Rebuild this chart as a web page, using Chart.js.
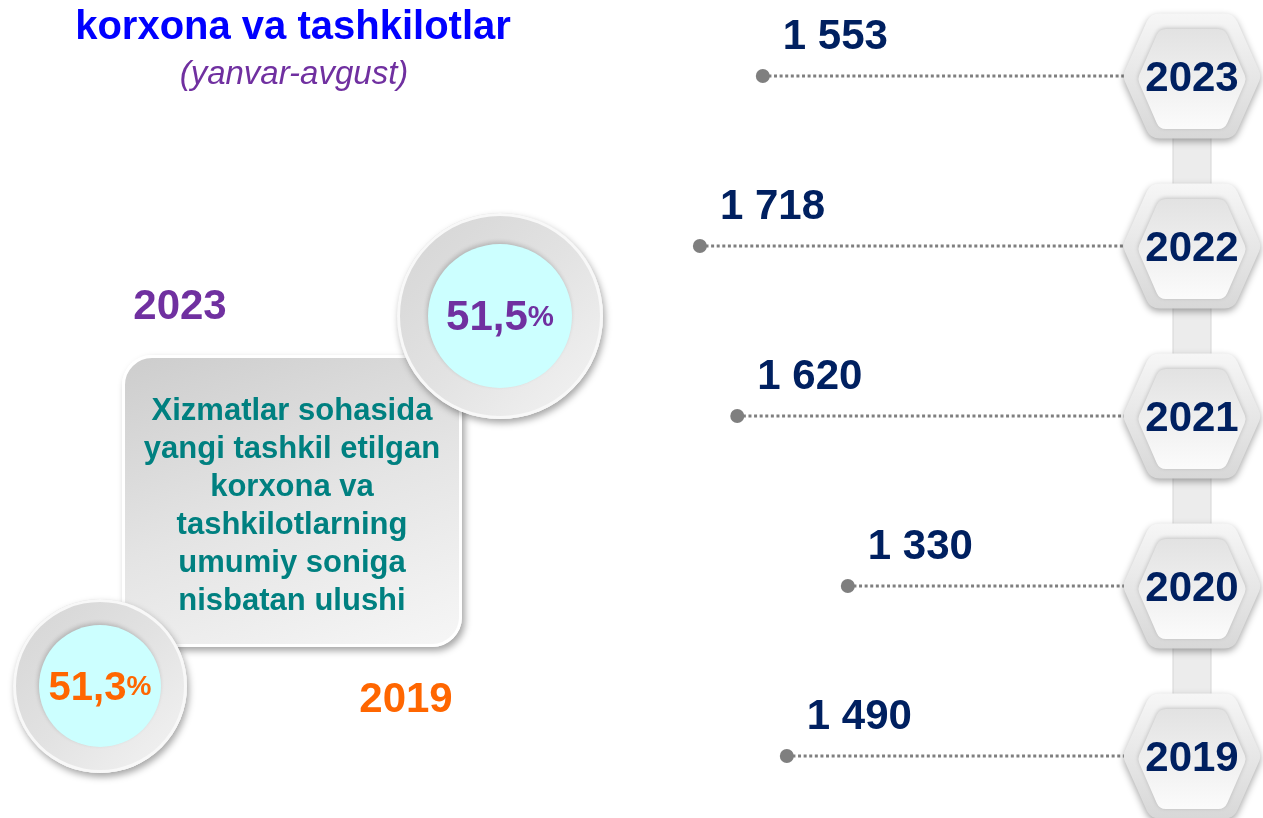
<!DOCTYPE html>
<html lang="uz">
<head>
<meta charset="UTF-8">
<title>Korxona va tashkilotlar</title>
<script src="https://cdn.jsdelivr.net/npm/chart.js@4"></script>
<style>
  body { margin: 0; background: #fff; font-family: "Liberation Sans", Arial, sans-serif; }
  #wrap { position: relative; width: 1263px; height: 818px; overflow: hidden; }
  #chart { position: absolute; left: 0; top: 0; }
  .t { position: absolute; transform: translate(-50%, -50%); line-height: 1; white-space: nowrap; font-weight: bold; }
  .box {
    position: absolute; left: 122px; top: 355px; width: 334px; height: 286px;
    border-radius: 30px; border: 3px solid #fff;
    background: linear-gradient(160deg, #cdcdcd 0%, #e4e4e4 50%, #f6f6f6 100%);
    box-shadow: 3px 4px 7px rgba(0,0,0,0.35);
    display: flex; align-items: center; justify-content: center;
    color: #008080; font-weight: bold; font-size: 31px; line-height: 38px; text-align: center;
    padding-top: 8px; box-sizing: content-box;
  }
  .ring {
    position: absolute; border-radius: 50%;
    background: linear-gradient(135deg, #d4d4d4 0%, #e2e2e2 50%, #f4f4f4 100%);
    box-shadow: 2px 4px 7px rgba(0,0,0,0.35), inset 0 0 0 3px #f8f8f8;
  }
  .core {
    position: absolute; border-radius: 50%; background: #ccffff;
    box-shadow: -1px -2px 4px rgba(0,0,0,0.18);
    display: flex; align-items: center; justify-content: center;
    font-weight: bold; white-space: nowrap;
  }
  .core small { font-size: 0.7em; }
</style>
</head>
<body>
<div id="wrap">
  <canvas id="chart" width="1263" height="818"></canvas>

  <div class="t" style="left:293px; top:25px; font-size:40px; color:#0000ff;">korxona va tashkilotlar</div>
  <div class="t" style="left:294px; top:72px; font-size:33px; color:#7030a0; font-weight:normal; font-style:italic;">(yanvar-avgust)</div>

  <div class="box" style="height:278px;">Xizmatlar sohasida<br>yangi tashkil etilgan<br>korxona va<br>tashkilotlarning<br>umumiy soniga<br>nisbatan ulushi</div>

  <div class="t" id="yearNew" style="left:180px; top:305px; font-size:42px; color:#7030a0;"></div>
  <div class="t" id="yearOld" style="left:406px; top:698px; font-size:42px; color:#ff6600;"></div>

  <div class="ring" style="left:397px; top:213px; width:206px; height:206px;">
    <div class="core" id="shareNew" style="left:31px; top:31px; width:144px; height:144px; font-size:42px; color:#7030a0;"></div>
  </div>
  <div class="ring" style="left:13px; top:599px; width:174px; height:174px;">
    <div class="core" id="shareOld" style="left:26px; top:26px; width:122px; height:122px; font-size:40px; color:#ff6600;"></div>
  </div>
</div>

<script>
  // Timeline data (top to bottom)
  const years = ['2023', '2022', '2021', '2020', '2019'];
  const counts = [1553, 1718, 1620, 1330, 1490];

  // Share of services sector, first and last year
  const shareYears = ['2023', '2019'];
  const shares = [51.5, 51.3];

  const fmtNum = n => String(n).replace(/\B(?=(\d{3})+(?!\d))/g, ' ');
  const fmtPct = v => v.toFixed(1).replace('.', ',') + '<small>%</small>';

  document.getElementById('yearNew').textContent = shareYears[0];
  document.getElementById('yearOld').textContent = shareYears[1];
  document.getElementById('shareNew').innerHTML = fmtPct(shares[0]);
  document.getElementById('shareOld').innerHTML = fmtPct(shares[1]);

  const X_MIN = 590, X_MAX = 1980;

  // one dotted line per year, running from the value to the right edge
  const datasets = years.map((y, i) => ({
    data: [{ x: counts[i], y: y }, { x: X_MIN, y: y }],
    borderColor: '#7f7f7f',
    borderWidth: 3,
    borderDash: [3, 2.6],
    pointRadius: [7, 0],
    pointBackgroundColor: '#7f7f7f',
    pointBorderWidth: 0,
    clip: false
  }));

  function hexPath(ctx, cx, cy, w, h, r) {
    const s = w * 0.2;
    const pts = [
      [cx - w / 2, cy], [cx - w / 2 + s, cy - h / 2], [cx + w / 2 - s, cy - h / 2],
      [cx + w / 2, cy], [cx + w / 2 - s, cy + h / 2], [cx - w / 2 + s, cy + h / 2]
    ];
    const n = pts.length;
    ctx.beginPath();
    ctx.moveTo((pts[n - 1][0] + pts[0][0]) / 2, (pts[n - 1][1] + pts[0][1]) / 2);
    for (let i = 0; i < n; i++) {
      const p = pts[i], q = pts[(i + 1) % n];
      ctx.arcTo(p[0], p[1], q[0], q[1], r);
    }
    ctx.closePath();
  }

  const timeline = {
    id: 'timeline',
    beforeDatasetsDraw(chart) {
      const ctx = chart.ctx, ys = chart.scales.y;
      const cx = chart.chartArea.right + 62;
      const top = ys.getPixelForValue(0), bottom = 818;
      ctx.save();
      ctx.fillStyle = '#ececec';
      ctx.strokeStyle = '#d6d6d6';
      ctx.lineWidth = 1;
      ctx.fillRect(cx - 19, top, 38, bottom - top);
      ctx.strokeRect(cx - 19, top, 38, bottom - top);
      ctx.restore();
    },
    afterDatasetsDraw(chart) {
      const ctx = chart.ctx, ys = chart.scales.y;
      const cx = chart.chartArea.right + 62;
      ctx.save();
      years.forEach((y, i) => {
        const cy = ys.getPixelForValue(i);
        // outer hexagon
        ctx.save();
        ctx.shadowColor = 'rgba(0,0,0,0.35)';
        ctx.shadowBlur = 7;
        ctx.shadowOffsetY = 3;
        let g = ctx.createLinearGradient(0, cy - 62, 0, cy + 62);
        g.addColorStop(0, '#f6f6f6');
        g.addColorStop(1, '#d8d8d8');
        ctx.fillStyle = g;
        hexPath(ctx, cx, cy, 139, 125, 14);
        ctx.fill();
        ctx.restore();
        // inner face
        ctx.save();
        ctx.shadowColor = 'rgba(0,0,0,0.2)';
        ctx.shadowBlur = 4;
        ctx.shadowOffsetY = -1;
        g = ctx.createLinearGradient(0, cy - 48, 0, cy + 52);
        g.addColorStop(0, '#e2e2e2');
        g.addColorStop(1, '#fbfbfb');
        ctx.fillStyle = g;
        hexPath(ctx, cx, cy + 3, 109, 100, 10);
        ctx.fill();
        ctx.restore();
        // year label
        ctx.fillStyle = '#002060';
        ctx.font = 'bold 42px "Liberation Sans", Arial, sans-serif';
        ctx.textAlign = 'center';
        ctx.textBaseline = 'middle';
        ctx.fillText(y, cx, cy + 3);
      });
      // value labels above the dots
      chart.data.datasets.forEach((ds, i) => {
        const pt = chart.getDatasetMeta(i).data[0];
        ctx.fillStyle = '#002060';
        ctx.font = 'bold 42px "Liberation Sans", Arial, sans-serif';
        ctx.textAlign = 'left';
        ctx.textBaseline = 'middle';
        ctx.fillText(fmtNum(counts[i]), pt.x + 20, pt.y - 39);
      });
      ctx.restore();
    }
  };

  new Chart(document.getElementById('chart'), {
    type: 'line',
    data: { labels: years, datasets: datasets },
    options: {
      responsive: false,
      animation: false,
      layout: { padding: { left: 600, right: 133, top: 76, bottom: 62 } },
      scales: {
        x: { type: 'linear', reverse: true, min: X_MIN, max: X_MAX, display: false },
        y: { type: 'category', labels: years, offset: false, display: false }
      },
      plugins: { legend: { display: false }, tooltip: { enabled: false } }
    },
    plugins: [timeline]
  });
</script>
</body>
</html>
